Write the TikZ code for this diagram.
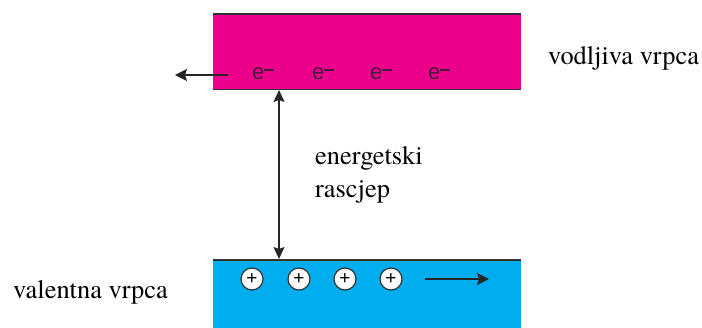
\documentclass[tikz,border=0pt]{standalone}
\usepackage{fontspec}
\newfontfamily\tnr{TeX Gyre Termes}
\newfontfamily\helv{Liberation Sans}
\usetikzlibrary{arrows.meta,calc}
\definecolor{magentaband}{HTML}{EC008C}
\definecolor{cyanband}{HTML}{00AEEF}
\definecolor{edgegray}{HTML}{333333}
\definecolor{elecgray}{HTML}{4A1A3C}
\newcommand{\elecsym}{e\raisebox{0.42em}{\rule{0.42em}{0.07em}}}
\tikzset{
  band/.style={rectangle, inner sep=0pt, draw=none, anchor=north west, minimum width=308pt},
  edgeline/.style={draw=edgegray, line width=1.4pt},
  arr/.style={draw=black!85, line width=1.1pt, -{Stealth[length=12pt,width=12pt,inset=2pt]}},
  darr/.style={draw=black!85, line width=1.1pt, {Stealth[length=12pt,width=11pt,inset=2pt]}-{Stealth[length=12pt,width=11pt,inset=2pt]}},
  elec/.style={anchor=base west, inner sep=0pt, text=elecgray, font=\helv\fontsize{22}{26}\selectfont},
  hole/.style={circle, draw=edgegray, line width=1.2pt, fill=white, minimum size=22pt, inner sep=0pt, font=\helv\fontsize{19}{20}\selectfont},
  lbl/.style={anchor=base west, inner sep=0pt, font=\tnr\fontsize{26.4}{30}\selectfont}
}
\begin{document}
\begin{tikzpicture}[x=1pt,y=-1pt]
\useasboundingbox (0,0) rectangle (702,328);
% bands
\node[band, fill=magentaband, minimum height=75pt] (cb) at (213,14) {};
\node[band, fill=cyanband, minimum height=68pt] (vb) at (213,260) {};
\draw[edgeline] (cb.north west) -- (cb.north east);
\draw[edgeline] (cb.south west) -- (cb.south east);
\draw[edgeline] (vb.north west) -- (vb.north east);
% electrons
\node[elec] (e1) at (252,80) {\elecsym};
\node[elec] (e2) at (312,80) {\elecsym};
\node[elec] (e3) at (370,80) {\elecsym};
\node[elec] (e4) at (428,80) {\elecsym};
% holes
\node[hole] (h1) at (252,279) {+};
\node[hole] (h2) at (299,279) {+};
\node[hole] (h3) at (345,279) {+};
\node[hole] (h4) at (391,279) {+};
% arrows
\coordinate (la1) at (228,75);
\coordinate (la2) at (175,75);
\draw[arr] (la1) -- (la2);
\coordinate (ra1) at (425,279);
\coordinate (ra2) at (489,279);
\draw[arr] (ra1) -- (ra2);
\coordinate (gt) at (279,90);
\coordinate (gb) at (279,259);
\draw[darr] (gb) -- (gt);
% labels
\node[lbl] (cond) at (548,65) {vodljiva vrpca};
\node[lbl] (val) at (13,299) {valentna vrpca};
\node[lbl] (gap1) at (315,165) {energetski};
\node[lbl] (gap2) at (315,198) {rascjep};
\end{tikzpicture}
\end{document}
